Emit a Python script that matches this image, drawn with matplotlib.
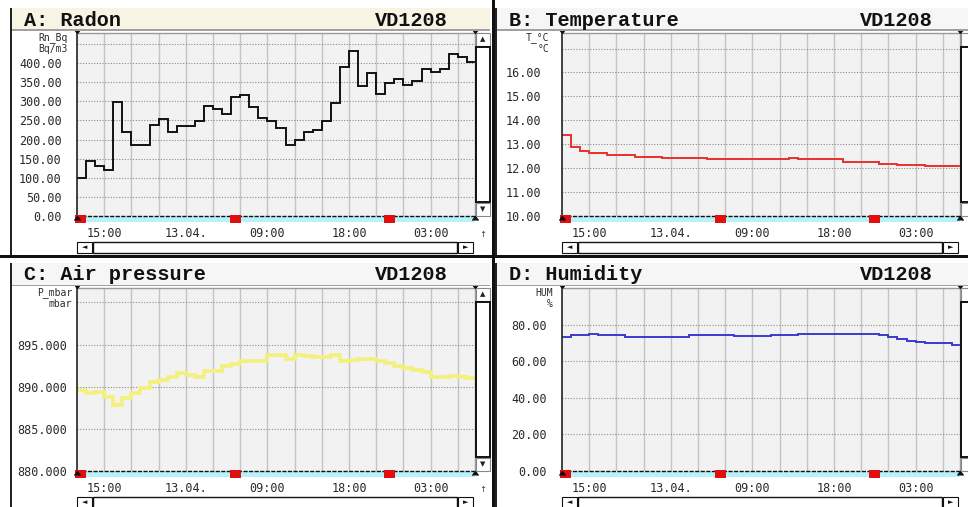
import matplotlib
matplotlib.use('Agg')
import matplotlib.pyplot as plt
from matplotlib.patches import Rectangle
from matplotlib.transforms import blended_transform_factory
import numpy as np

# hourly readings, 12.04. 12:00 -> 14.04. ~08:00
radon = [100, 143, 130, 120, 299, 220, 185, 185, 237, 253, 220, 235, 235, 249, 287,
         281, 266, 312, 316, 284, 257, 249, 231, 187, 198, 220, 224, 249, 296, 391,
         431, 340, 373, 319, 349, 359, 344, 353, 384, 378, 385, 424, 416, 402]
temperature = [13.4, 12.9, 12.72, 12.65, 12.65, 12.55, 12.55, 12.55, 12.48, 12.48, 12.48,
               12.44, 12.44, 12.44, 12.44, 12.44,
               12.37, 12.37, 12.37, 12.37, 12.37, 12.37, 12.37, 12.37, 12.37,
               12.44, 12.37, 12.37, 12.37, 12.37, 12.37,
               12.25, 12.25, 12.25, 12.25, 12.18, 12.18, 12.13, 12.13, 12.13,
               12.08, 12.08, 12.08, 12.08]
pressure = [889.6, 889.2, 889.4, 888.8, 887.8, 888.6, 889.2, 889.9, 890.6, 890.8,
            891.2, 891.6, 891.4, 891.2, 891.9, 891.8, 892.4, 892.7, 893.0, 893.1,
            893.1, 893.7, 893.7, 893.3, 893.7, 893.6, 893.5, 893.5, 893.8, 893.1,
            893.2, 893.3, 893.3, 893.1, 892.8, 892.4, 892.2, 892.0, 891.7, 891.2,
            891.2, 891.3, 891.2, 891.0]
humidity = [73.3, 74.2, 74.2, 75.0, 74.2, 74.2, 74.2,
            73.3, 73.3, 73.3, 73.3, 73.3, 73.3, 73.3,
            74.2, 74.2, 74.2, 74.2, 74.2, 73.5, 73.5, 73.5, 73.5,
            74.2, 74.2, 74.2,
            75.0, 75.0, 75.0, 75.0, 75.0, 75.0, 75.0, 75.0, 75.0,
            74.2, 73.3, 72.4, 71.2, 70.3, 69.7, 69.7, 69.7, 69.0]

hour_edges = np.arange(len(radon) + 1)
xtick_hours = [3, 12, 21, 30, 39]
xtick_labels = ['15:00', '13.04.', '09:00', '18:00', '03:00']
marker_hours = [0.4, 17.5, 34.5]
x_span = 43.9

W, H = 968, 507
fig = plt.figure(figsize=(W / 100, H / 100), dpi=100)
fig.patch.set_facecolor('white')

def fx(x):
    return x / W

def fy(y):
    return 1 - y / H

def prect(x0, y0, x1, y1, **kw):
    fig.patches.append(Rectangle((fx(x0), fy(y1)), (x1 - x0) / W, (y1 - y0) / H,
                                 transform=fig.transFigure, **kw))

def ftext(x, y, s, **kw):
    if x < W - 4:
        fig.text(fx(x), fy(y), s, **kw)

small = dict(family='DejaVu Sans Mono', fontsize=8.5, color='#2a2a2a')
tiny = dict(family='DejaVu Sans Mono', fontsize=7, color='#2a2a2a')
titlefont = dict(family='Liberation Mono', fontsize=14.5, fontweight='bold', color='#111111')

# (ox, oy, title, data, colour, width, ylim, ytick step, fmt, unit lines, label pad, bar colour)
panels = [
    (0, 0, 'A: Radon', radon, '#111111', 1.4, (0, 479), 50, '%.2f', ('Rn_Bq', 'Bq/m3'), 11, '#f8f4e4'),
    (485, 0, 'B: Temperature', temperature, '#e8302c', 1.4, (10, 17.65), 1, '%.2f', ('T_°C', '°C'), 15, '#f6f6f6'),
    (0, 255, 'C: Air pressure', pressure, '#f4f07c', 2.6, (880, 901.7), 5, '%.3f', ('P_mbar', 'mbar'), 7, '#f6f6f6'),
    (485, 255, 'D: Humidity', humidity, '#3a3ad0', 1.4, (0, 100), 20, '%.2f', ('HUM', '%'), 11, '#f6f6f6'),
]

for ox, oy, title, values, color, lw, ylim, step, fmt, unit, pad, barcol in panels:
    # title bar
    prect(ox + 12, oy + 8, ox + 490, oy + 30, facecolor=barcol, edgecolor='none')
    prect(ox + 12, oy + 29.5, ox + 490, oy + 30.5, facecolor='#a0a0a0', edgecolor='none')
    prect(ox + 10, oy + 8, ox + 12, oy + 255, facecolor='#222222', edgecolor='none')
    ftext(ox + 24, oy + 20, title, ha='left', va='center', **titlefont)
    ftext(ox + 448, oy + 20, 'VD1208', ha='right', va='center', **titlefont)

    # plot area
    x0, y0, x1, y1 = ox + 77, oy + 33, ox + 475, oy + 216
    ax = fig.add_axes([fx(x0), fy(y1), (x1 - x0) / W, (y1 - y0) / H])
    ax.set_facecolor('#f2f2f2')
    ax.stairs(values, hour_edges, baseline=None, color=color, lw=lw)
    ax.set_xlim(0, x_span)
    ax.set_ylim(*ylim)

    grid_x = np.arange(0, 44, 3)
    for g in grid_x[1:]:
        ax.axvline(g, color='#c4c4c4', lw=1.0, zorder=0)
    yt = np.arange(ylim[0], ylim[1] + 1e-6, step)
    for g in yt[1:]:
        ax.axhline(g, color='#8a8a8a', lw=0.8, ls=(0, (1, 1.5)), zorder=0)

    ax.set_xticks(xtick_hours)
    ax.set_xticklabels(xtick_labels, **small)
    labels = [fmt % v for v in yt]
    labels[-1] = ''
    ax.set_yticks(yt)
    ax.set_yticklabels(labels, **small)
    ax.tick_params(axis='y', length=0, pad=pad)
    ax.tick_params(axis='x', length=0, pad=8)

    for side in ['top', 'right']:
        ax.spines[side].set_color('#9a9a9a')
        ax.spines[side].set_linewidth(1.0)
    ax.spines['left'].set_color('#222222')
    ax.spines['left'].set_linewidth(1.2)
    ax.spines['bottom'].set_color('#111111')
    ax.spines['bottom'].set_linestyle((0, (2, 2)))
    ax.spines['bottom'].set_linewidth(1.0)

    # unit label
    ftext(x0 - pad + 2, y0 + 5, unit[0], ha='right', va='center', **tiny)
    ftext(x0 - pad + 2, y0 + 16, unit[1], ha='right', va='center', **tiny)

    # status strip with markers
    trans = blended_transform_factory(ax.transData, ax.transAxes)
    strip_h = 6 / (y1 - y0)
    ax.add_patch(Rectangle((0, -strip_h), x_span, strip_h, transform=trans,
                           facecolor='#b8f2f8', edgecolor='none', clip_on=False, zorder=0.5))
    for m in marker_hours:
        ax.add_patch(Rectangle((m - 0.6, -strip_h - 0.005), 1.2, strip_h + 0.01, transform=trans,
                               facecolor='#e01010', edgecolor='none', clip_on=False, zorder=3))

    # corner wedges
    for cx, cy, mk in [(0, 1, 7), (1, 1, 7), (0, 0, 6), (1, 0, 6)]:
        ax.plot([cx], [cy], marker=mk, color='#111111', ms=4, transform=ax.transAxes,
                clip_on=False, zorder=4)

    # vertical scroll bar
    prect(x1 + 1, y0, x1 + 15, y0 + 13, facecolor='white', edgecolor='#888888', lw=0.8)
    ftext(x1 + 8, y0 + 6.5, '▲', ha='center', va='center', fontsize=5, color='#222222')
    prect(x1 + 1, y0 + 14, x1 + 15, y1 - 14, facecolor='white', edgecolor='#111111', lw=1.4)
    prect(x1 + 1, y1 - 13, x1 + 15, y1, facecolor='white', edgecolor='#888888', lw=0.8)
    ftext(x1 + 8, y1 - 6.5, '▼', ha='center', va='center', fontsize=5, color='#222222')
    ftext(x1 + 8, oy + 235, '↑', ha='center', va='center', fontsize=6, color='#333333')

    # horizontal scroll bar
    prect(x0, oy + 242, x0 + 15, oy + 253, facecolor='white', edgecolor='#111111', lw=0.8)
    ftext(x0 + 7.5, oy + 247.5, '◄', ha='center', va='center', fontsize=5, color='#111111')
    prect(x0 + 16, oy + 242, x1 - 18, oy + 253, facecolor='white', edgecolor='#111111', lw=1.0)
    prect(x1 - 17, oy + 242, x1 - 2, oy + 253, facecolor='white', edgecolor='#111111', lw=0.8)
    ftext(x1 - 9.5, oy + 247.5, '►', ha='center', va='center', fontsize=5, color='#111111')

# window separators
prect(492, 0, 495, H, facecolor='#111111', edgecolor='none')
prect(0, 255, W, 258, facecolor='#111111', edgecolor='none')

fig.savefig('out.png', dpi=100, facecolor='white')
